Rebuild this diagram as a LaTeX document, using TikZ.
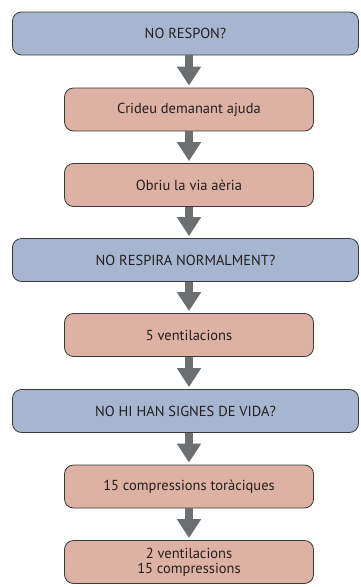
\documentclass[tikz,border=0pt]{standalone}
\usepackage{fontspec}
\setmainfont{PT Sans}
\usetikzlibrary{arrows.meta}
\definecolor{bluefill}{HTML}{A7B6D0}
\definecolor{pinkfill}{HTML}{DDB1A3}
\definecolor{arrgray}{HTML}{6D6E71}
\definecolor{edgecol}{HTML}{3A3A3A}
\definecolor{txtcol}{HTML}{231F20}
\tikzset{
  box/.style={draw=edgecol, line width=0.8pt, rounded corners=9pt, minimum height=43pt,
    inner sep=0pt, align=center, text=txtcol, font=\fontsize{14.5}{15}\selectfont},
  bluebox/.style={box, fill=bluefill, minimum width=346pt},
  pinkbox/.style={box, fill=pinkfill, minimum width=249pt},
  flow/.style={draw=arrgray, line width=8pt, shorten >=2pt,
    -{Triangle[width=23pt,length=19pt]}}
}
\begin{document}
\begin{tikzpicture}[x=1pt,y=-1pt]
\useasboundingbox (0,0) rectangle (360,587);
\node[bluebox] (b1) at (185.5,33.5) {NO RESPON?};
\node[pinkbox] (p1) at (189,109.5) {Crideu demanant ajuda};
\node[pinkbox] (p2) at (189,185) {Obriu la via aèria};
\node[bluebox] (b2) at (185.5,260) {NO RESPIRA NORMALMENT?};
\node[pinkbox] (p3) at (189,335) {5 ventilacions};
\node[bluebox] (b3) at (185.5,411) {NO HI HAN SIGNES DE VIDA?};
\node[pinkbox] (p4) at (189,486.5) {15 compressions toràciques};
\node[pinkbox] (p5) at (189,562) {2 ventilacions\\15 compressions};
\draw[flow] (b1.south -| p1.north) -- (p1.north);
\draw[flow] (p1.south) -- (p2.north);
\draw[flow] (p2.south) -- (b2.north -| p2.south);
\draw[flow] (b2.south -| p3.north) -- (p3.north);
\draw[flow] (p3.south) -- (b3.north -| p3.south);
\draw[flow] (b3.south -| p4.north) -- (p4.north);
\draw[flow] (p4.south) -- (p5.north);
\end{tikzpicture}
\end{document}
